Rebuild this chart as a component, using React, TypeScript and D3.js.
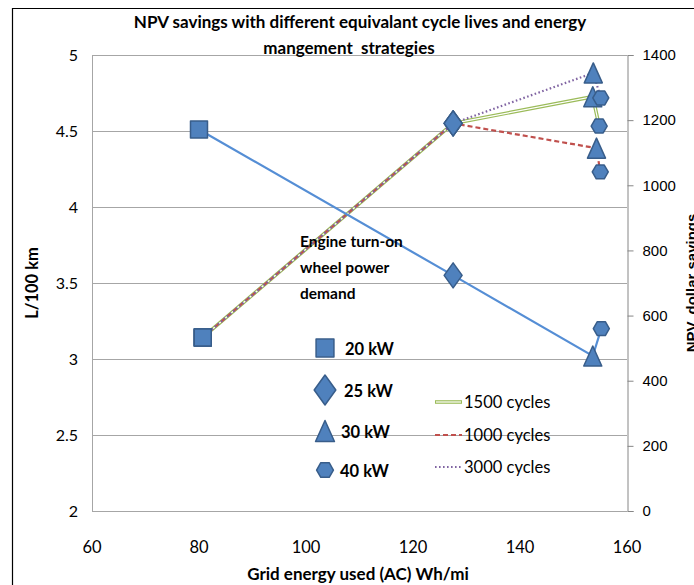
import React, { useRef, useEffect } from 'react';
import * as d3 from 'd3';

// fuel use series (left axis), points at 20 / 25 / 30 / 40 kW
const fuelX = [80.0, 127.5, 153.6, 155.2];
const fuelL100 = [4.51, 3.55, 3.02, 3.2];

// NPV series (right axis)
const cycleNames = ['1500 cycles', '1000 cycles', '3000 cycles'];
const npvX = [
  [80.7, 127.5, 153.6, 154.8],
  [80.7, 127.5, 154.3, 155.0],
  [80.7, 127.5, 153.7, 155.1],
];
const npvValues = [
  [533, 1190, 1272, 1182],
  [533, 1190, 1114, 1041],
  [533, 1190, 1345, 1268],
];

const powerLabels = ['20 kW', '25 kW', '30 kW', '40 kW'];
const xTicks = [60, 80, 100, 120, 140, 160];
const leftTicks = [2, 2.5, 3, 3.5, 4, 4.5, 5];
const rightTicks = [0, 200, 400, 600, 800, 1000, 1200, 1400];

const CAL = 'Lato, "Open Sans", sans-serif';
const ARIAL = '"Liberation Sans", Arial, sans-serif';
const MARK_FILL = '#4F81BD';
const MARK_STROKE = '#385D8A';

// marker path for point index (square, diamond, triangle, hexagon)
function markerPath(kind: number, s = 1): string {
  if (kind === 0) {
    const h = 8.5 * s;
    return `M${-h},${-h}L${h},${-h}L${h},${h}L${-h},${h}Z`;
  }
  if (kind === 1) {
    const w = 9 * s, h = 12.5 * s;
    return `M0,${-h}L${w},0L0,${h}L${-w},0Z`;
  }
  if (kind === 2) {
    const w = 9 * s, h = 10 * s;
    return `M0,${-h}L${w},${h}L${-w},${h}Z`;
  }
  const r = 8 * s;
  const pts = d3.range(6).map(i => {
    const a = (Math.PI / 3) * i;
    return [r * Math.cos(a), r * Math.sin(a)];
  });
  return 'M' + pts.map(p => p.join(',')).join('L') + 'Z';
}

const App: React.FC = () => {
  const svgRef = useRef<SVGSVGElement | null>(null);
  const width = 694;
  const height = 585;

  useEffect(() => {
    if (!svgRef.current) return;
    const svg = d3.select(svgRef.current);
    svg.selectAll('*').remove();

    const left = 92, right = 627, top = 55, bottom = 511;

    const x = d3.scaleLinear().domain([60, 160]).range([left, right]);
    const yL = d3.scaleLinear().domain([2, 5]).range([bottom, top]);
    const yR = d3.scaleLinear().domain([0, 1400]).range([bottom, top]);

    svg.append('rect').attr('width', width).attr('height', height).attr('fill', '#fff');

    // outer frame
    svg.append('path')
      .attr('d', `M12.5,${height}L12.5,8.5L${width},8.5`)
      .attr('fill', 'none')
      .attr('stroke', '#000')
      .attr('stroke-width', 1.2);

    // gridlines
    svg.append('g')
      .selectAll('line')
      .data(leftTicks)
      .enter()
      .append('line')
      .attr('x1', left)
      .attr('x2', right)
      .attr('y1', d => Math.round(yL(d)) + 0.5)
      .attr('y2', d => Math.round(yL(d)) + 0.5)
      .attr('stroke', '#A6A6A6')
      .attr('stroke-width', 1);

    // left axis line
    svg.append('line')
      .attr('x1', left + 0.5).attr('x2', left + 0.5)
      .attr('y1', top).attr('y2', bottom)
      .attr('stroke', '#A6A6A6');

    // right axis
    const rAxis = svg.append('g')
      .attr('transform', `translate(${right + 0.5},0)`)
      .call(d3.axisRight(yR).tickValues(rightTicks).tickSize(6).tickPadding(9).tickFormat(d3.format('d')));
    rAxis.select('.domain').attr('stroke', '#868686');
    rAxis.selectAll('.tick line').attr('stroke', '#868686');
    rAxis.selectAll('text')
      .attr('font-family', ARIAL)
      .attr('font-size', '15px')
      .attr('fill', '#000');

    // left tick labels
    svg.append('g')
      .selectAll('text')
      .data(leftTicks)
      .enter()
      .append('text')
      .attr('x', 78)
      .attr('y', d => yL(d) + 5.5)
      .attr('text-anchor', 'end')
      .attr('font-family', CAL)
      .attr('font-size', '16px')
      .text(d => d3.format('')(d));

    // x tick labels
    svg.append('g')
      .selectAll('text')
      .data(xTicks)
      .enter()
      .append('text')
      .attr('x', d => x(d))
      .attr('y', 553)
      .attr('text-anchor', 'middle')
      .attr('font-family', CAL)
      .attr('font-size', '16.5px')
      .text(d => String(d));

    // titles
    const title = svg.append('text')
      .attr('text-anchor', 'middle')
      .attr('font-family', CAL)
      .attr('font-weight', 'bold')
      .attr('font-size', '17px')
      .style('white-space', 'pre');
    title.append('tspan').attr('x', 360).attr('y', 28)
      .text('NPV savings with different equivalant cycle lives and energy');
    title.append('tspan').attr('x', 349).attr('y', 54)
      .text('mangement  strategies');

    svg.append('text')
      .attr('x', 358).attr('y', 580)
      .attr('text-anchor', 'middle')
      .attr('font-family', CAL)
      .attr('font-weight', 'bold')
      .attr('font-size', '17px')
      .text('Grid energy used (AC) Wh/mi');

    svg.append('text')
      .attr('transform', `translate(38,${(top + bottom) / 2}) rotate(-90)`)
      .attr('text-anchor', 'middle')
      .attr('font-family', CAL)
      .attr('font-weight', 'bold')
      .attr('font-size', '16.5px')
      .text('L/100 km');

    svg.append('text')
      .attr('transform', `translate(697,${(top + bottom) / 2}) rotate(-90)`)
      .attr('text-anchor', 'middle')
      .attr('font-family', ARIAL)
      .attr('font-weight', 'bold')
      .attr('font-size', '15px')
      .text('NPV, dollar savings');

    // NPV lines
    const npvLine = (i: number) =>
      d3.line<number>()
        .x((_, j) => x(npvX[i][j]))
        .y(d => yR(d))(npvValues[i]) || '';

    const lineStyles = [
      { color: '#9BBB59', dash: null as string | null },
      { color: '#C0504D', dash: '5,3' },
      { color: '#8064A2', dash: '1.6,2.4' },
    ];

    // 1500 cycles: double line
    svg.append('path').attr('d', npvLine(0)).attr('fill', 'none')
      .attr('stroke', lineStyles[0].color).attr('stroke-width', 3.6);
    svg.append('path').attr('d', npvLine(0)).attr('fill', 'none')
      .attr('stroke', '#fff').attr('stroke-width', 1.2);
    svg.append('path').attr('d', npvLine(1)).attr('fill', 'none')
      .attr('stroke', lineStyles[1].color).attr('stroke-width', 2.2)
      .attr('stroke-dasharray', lineStyles[1].dash!);
    svg.append('path').attr('d', npvLine(2)).attr('fill', 'none')
      .attr('stroke', lineStyles[2].color).attr('stroke-width', 2.2)
      .attr('stroke-dasharray', lineStyles[2].dash!);

    // fuel line
    const fuelLine = d3.line<number>()
      .x((_, j) => x(fuelX[j]))
      .y(d => yL(d));
    svg.append('path')
      .attr('d', fuelLine(fuelL100) || '')
      .attr('fill', 'none')
      .attr('stroke', '#558ED5')
      .attr('stroke-width', 2.2);

    // markers
    const drawMarker = (cx: number, cy: number, kind: number, s = 1) => {
      svg.append('path')
        .attr('d', markerPath(kind, s))
        .attr('transform', `translate(${cx},${cy})`)
        .attr('fill', MARK_FILL)
        .attr('stroke', MARK_STROKE)
        .attr('stroke-width', 1.5)
        .attr('stroke-linejoin', 'round');
    };
    npvValues.forEach((vals, i) => {
      vals.forEach((v, j) => drawMarker(x(npvX[i][j]), yR(v), j));
    });
    fuelL100.forEach((v, j) => drawMarker(x(fuelX[j]), yL(v), j));

    // legend: marker shapes
    ['Engine turn-on', 'wheel power', 'demand'].forEach((t, i) => {
      svg.append('text')
        .attr('x', 300)
        .attr('y', 247 + i * 26)
        .attr('font-family', CAL)
        .attr('font-weight', 'bold')
        .attr('font-size', '15.5px')
        .text(t);
    });
    const legMarkerY = [348, 390, 431, 470];
    const legTextX = [345, 344, 341, 340];
    powerLabels.forEach((lab, i) => {
      svg.append('path')
        .attr('d', markerPath(i, i === 1 ? 1.2 : 1.05))
        .attr('transform', `translate(325,${legMarkerY[i]})`)
        .attr('fill', MARK_FILL)
        .attr('stroke', MARK_STROKE)
        .attr('stroke-width', 1.5)
        .attr('stroke-linejoin', 'round');
      svg.append('text')
        .attr('x', legTextX[i])
        .attr('y', legMarkerY[i] + 7)
        .attr('font-family', CAL)
        .attr('font-weight', 'bold')
        .attr('font-size', '16.5px')
        .text(lab);
    });

    // legend: cycle lines
    const cycY = [402, 435, 467];
    cycleNames.forEach((name, i) => {
      const st = lineStyles[i];
      const ln = svg.append('line')
        .attr('x1', 435).attr('x2', 462)
        .attr('y1', cycY[i]).attr('y2', cycY[i])
        .attr('stroke', st.color)
        .attr('stroke-width', i === 0 ? 3.6 : 2.2);
      if (st.dash) ln.attr('stroke-dasharray', st.dash);
      if (i === 0) {
        svg.append('line')
          .attr('x1', 436).attr('x2', 461)
          .attr('y1', cycY[i]).attr('y2', cycY[i])
          .attr('stroke', '#fff').attr('stroke-width', 1.2);
      }
      svg.append('text')
        .attr('x', 464)
        .attr('y', cycY[i] + 6)
        .attr('font-family', CAL)
        .attr('font-size', '16.5px')
        .text(name);
    });
  }, []);

  return (
    <svg
      ref={svgRef}
      width={width}
      height={height}
      style={{ position: 'absolute', left: 0, top: 0 }}
    />
  );
};

export default App;
